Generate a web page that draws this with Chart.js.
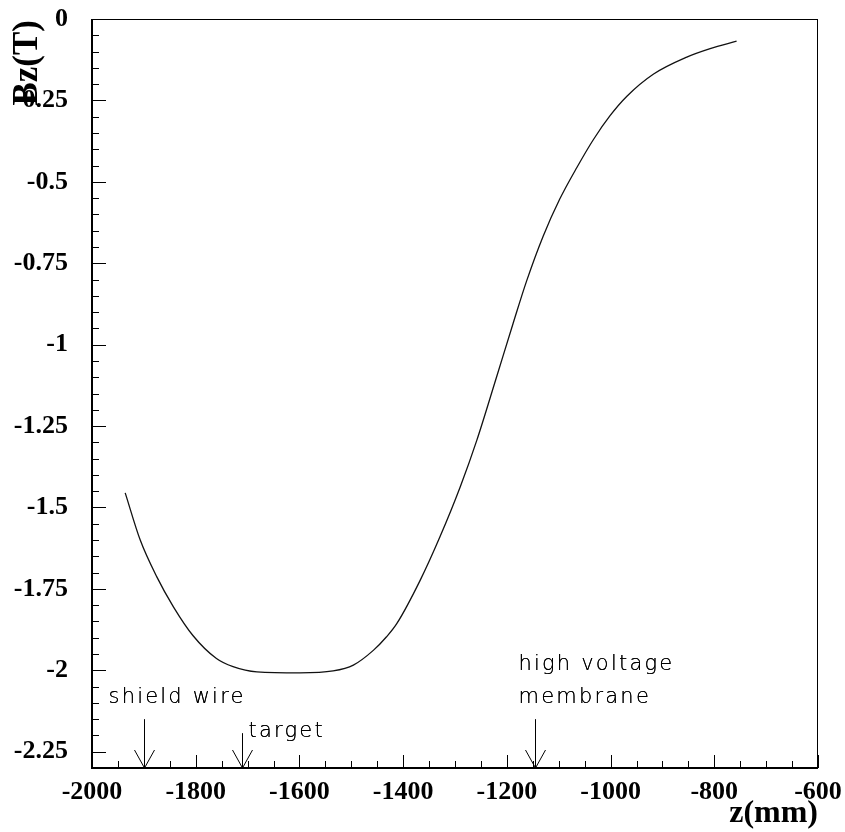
<!DOCTYPE html>
<html>
<head>
<meta charset="utf-8">
<script src="https://cdn.jsdelivr.net/npm/chart.js@4"></script>
<style>
  body { margin: 0; background: #fff; }
  canvas { display: block; }
</style>
</head>
<body>
<canvas id="fieldChart" width="845" height="832"></canvas>
<script>
// field along the axis
const zValues = [-1936, -1907, -1875, -1843, -1805, -1760, -1728, -1682, -1599, -1535,
  -1496, -1457, -1432, -1412, -1367, -1329, -1290, -1258, -1220,
  -1188, -1162, -1130, -1098, -1065, -1033, -1001, -969, -917, -853, -808, -757];
const bzValues = [-1.455, -1.600, -1.713, -1.805, -1.894, -1.964, -1.989, -2.005, -2.008, -2.002,
  -1.984, -1.938, -1.897, -1.856, -1.723, -1.590, -1.437, -1.294, -1.100,
  -0.935, -0.805, -0.667, -0.553, -0.456, -0.370, -0.297, -0.238, -0.169, -0.117, -0.091, -0.068];

const xTickValues = [-2000, -1800, -1600, -1400, -1200, -1000, -800, -600];
const yTickValues = [-2.25, -2, -1.75, -1.5, -1.25, -1, -0.75, -0.5, -0.25, 0];

// markers drawn as arrows at the bottom
const markerZ = [-1900, -1710, -1145];
const markerTopBz = [-2.15, -2.193, -2.15];
const markerLabels = [['shield wire'], ['target'], ['high voltage', 'membrane']];

const ctx = document.getElementById('fieldChart').getContext('2d');

// frame, inward ticks, arrows, titles
const rootStyle = {
  id: 'rootStyle',
  afterDatasetsDraw(chart) {
    const c = chart.ctx;
    const xs = chart.scales.x, ys = chart.scales.y;
    const a = chart.chartArea;
    c.save();
    c.strokeStyle = '#000';

    c.lineWidth = 1;
    c.strokeRect(a.left + 0.5, a.top + 0.5, a.right - a.left - 1, a.bottom - a.top - 1);
    c.lineWidth = 2;
    c.beginPath();
    c.moveTo(a.left, a.top);
    c.lineTo(a.left, a.bottom);
    c.lineTo(a.right, a.bottom);
    c.stroke();

    c.lineWidth = 1;
    c.beginPath();
    for (let v = -2000; v <= -600; v += 50) {
      const px = Math.round(xs.getPixelForValue(v)) + 0.5;
      const len = (v % 200 === 0) ? 13 : 7;
      c.moveTo(px, a.bottom);
      c.lineTo(px, a.bottom - len);
    }
    for (let i = 0; i <= 46; i++) {
      const v = -i * 0.05;
      const py = Math.round(ys.getPixelForValue(v)) + 0.5;
      const len = (i % 5 === 0) ? 14 : 7;
      c.moveTo(a.left, py);
      c.lineTo(a.left + len, py);
    }
    c.stroke();

    // arrows
    const offsets = [{dx: -36, dy: [-16]}, {dx: 6, dy: [4]}, {dx: -17, dy: [-49, -16]}];
    c.font = '300 21px "DejaVu Sans"';
    c.fillStyle = '#000';
    c.textAlign = 'left';
    c.textBaseline = 'alphabetic';
    if ('letterSpacing' in c) c.letterSpacing = '2.2px';
    markerZ.forEach((z, i) => {
      const px = Math.round(xs.getPixelForValue(z)) + 0.5;
      const top = ys.getPixelForValue(markerTopBz[i]);
      c.beginPath();
      c.moveTo(px, top);
      c.lineTo(px, a.bottom);
      c.moveTo(px - 10, a.bottom - 18);
      c.lineTo(px, a.bottom);
      c.lineTo(px + 10, a.bottom - 18);
      c.stroke();
      markerLabels[i].forEach((line, j) => {
        // drawn twice so the thin strokes come out darker
        c.fillText(line, px + offsets[i].dx, top + offsets[i].dy[j]);
        c.fillText(line, px + offsets[i].dx, top + offsets[i].dy[j]);
      });
    });
    if ('letterSpacing' in c) c.letterSpacing = '0px';

    // axis titles
    c.font = 'bold 32px "Liberation Serif"';
    c.textAlign = 'right';
    c.fillText('z(mm)', a.right, 822);
    c.font = 'bold 35px "Liberation Serif"';
    c.translate(37, a.top + 1);
    c.rotate(-Math.PI / 2);
    c.fillText('Bz(T)', 0, 0);
    c.restore();
  }
};

const tickFont = { family: 'Liberation Serif', weight: 'bold', size: 26, lineHeight: 1 };

new Chart(ctx, {
  type: 'line',
  data: {
    datasets: [{
      data: zValues.map((z, i) => ({ x: z, y: bzValues[i] })),
      borderColor: '#111',
      borderWidth: 1.3,
      pointRadius: 0,
      cubicInterpolationMode: 'monotone',
      fill: false
    }]
  },
  options: {
    responsive: false,
    animation: false,
    layout: { padding: { top: 19, right: 27, left: 0, bottom: 0 } },
    plugins: { legend: { display: false }, tooltip: { enabled: false } },
    scales: {
      x: {
        type: 'linear',
        min: -2000,
        max: -600,
        grid: { display: false },
        border: { display: false },
        afterBuildTicks: s => { s.ticks = xTickValues.map(v => ({ value: v })); },
        afterFit: s => { s.height = 64; s.paddingLeft = 0; s.paddingRight = 0; },
        ticks: {
          font: tickFont,
          color: '#000',
          padding: 3,
          maxRotation: 0,
          autoSkip: false,
          callback: v => String(v)
        }
      },
      y: {
        type: 'linear',
        min: -2.3,
        max: 0,
        grid: { display: false },
        border: { display: false },
        afterBuildTicks: s => { s.ticks = yTickValues.map(v => ({ value: v })); },
        afterFit: s => { s.width = 92; s.paddingTop = 0; s.paddingBottom = 0; },
        ticks: {
          font: tickFont,
          color: '#000',
          padding: 16,
          autoSkip: false,
          callback: v => String(v)
        }
      }
    }
  },
  plugins: [rootStyle]
});
</script>
</body>
</html>
